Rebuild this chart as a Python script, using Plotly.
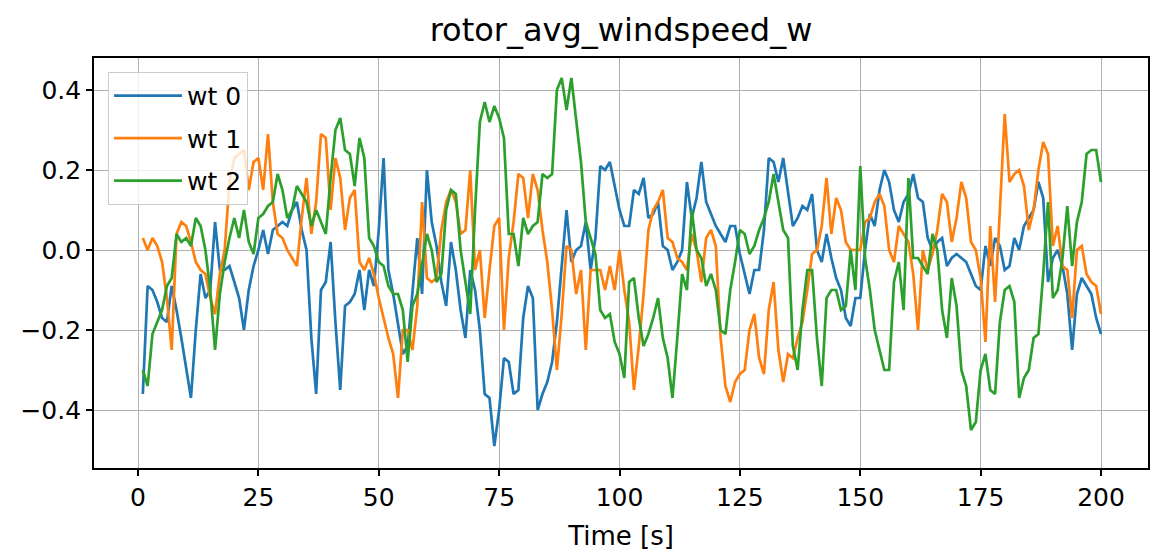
import plotly.graph_objects as go

time_s = list(range(1, 201))

wt0 = [-0.36, -0.09, -0.10, -0.13, -0.17, -0.18, -0.09, -0.15, -0.22, -0.30,
       -0.37, -0.20, -0.06, -0.12, -0.10, 0.07, -0.05, -0.05, -0.04, -0.08,
       -0.12, -0.20, -0.10, -0.04, 0.00, 0.05, -0.01, 0.05, 0.06, 0.07,
       0.06, 0.10, 0.12, 0.05, 0.00, -0.22, -0.36, -0.10, -0.08, 0.02,
       -0.18, -0.35, -0.14, -0.13, -0.11, -0.05, -0.15, -0.05, -0.09, 0.05,
       0.23, -0.05, -0.11, -0.18, -0.26, -0.24, -0.10, 0.03, -0.11, 0.20,
       0.07, 0.01, -0.08, -0.14, 0.02, -0.05, -0.15, -0.22, -0.05, -0.10,
       -0.20, -0.36, -0.37, -0.49, -0.40, -0.27, -0.28, -0.36, -0.35, -0.17,
       -0.09, -0.12, -0.40, -0.36, -0.33, -0.28, -0.18, -0.05, 0.10, -0.03,
       0.00, 0.01, 0.07, -0.05, 0.03, 0.21, 0.20, 0.22, 0.16, 0.10,
       0.06, 0.06, 0.15, 0.14, 0.18, 0.08, 0.09, 0.12, 0.01, 0.00,
       -0.05, -0.03, 0.00, 0.17, 0.08, 0.13, 0.22, 0.12, 0.09, 0.06,
       0.04, 0.02, 0.06, 0.06, -0.01, -0.06, -0.11, -0.05, -0.05, 0.05,
       0.23, 0.22, 0.17, 0.23, 0.15, 0.06, 0.08, 0.11, 0.10, 0.14,
       0.00, -0.03, 0.04, -0.02, -0.07, -0.10, -0.17, -0.19, -0.12, -0.12,
       0.00, 0.09, 0.06, 0.15, 0.20, 0.17, 0.10, 0.07, 0.12, 0.14,
       0.19, 0.13, 0.12, 0.03, 0.00, 0.02, 0.03, -0.04, -0.02, -0.01,
       -0.02, -0.03, -0.06, -0.09, -0.10, 0.01, -0.04, 0.03, 0.01, -0.05,
       -0.04, 0.03, 0.00, 0.06, 0.08, 0.10, 0.17, 0.13, -0.08, -0.02,
       0.00, -0.04, -0.11, -0.25, -0.11, -0.07, -0.09, -0.11, -0.17, -0.21]

wt1 = [0.03, 0.00, 0.03, 0.01, -0.03, -0.12, -0.25, 0.04, 0.07, 0.06,
       0.02, -0.03, -0.05, -0.06, -0.12, -0.16, -0.06, 0.00, 0.17, 0.23,
       0.24, 0.25, 0.15, 0.22, 0.23, 0.15, 0.29, 0.12, 0.04, 0.03,
       0.00, -0.02, -0.04, 0.08, 0.18, 0.04, 0.12, 0.29, 0.28, 0.10,
       0.23, 0.18, 0.05, 0.13, 0.15, -0.03, -0.05, -0.02, -0.06, -0.12,
       -0.17, -0.22, -0.26, -0.37, -0.20, -0.20, -0.25, -0.14, 0.12, -0.07,
       -0.08, -0.07, 0.05, 0.12, 0.15, 0.12, 0.04, 0.05, 0.20, -0.05,
       0.00, -0.17, -0.05, 0.06, 0.08, -0.20, -0.02, 0.07, 0.19, 0.18,
       0.08, 0.19, 0.15, 0.05, -0.03, -0.15, -0.30, -0.16, 0.01, 0.00,
       -0.11, -0.05, -0.25, -0.05, -0.05, -0.05, -0.10, -0.04, -0.10, 0.00,
       -0.10, -0.18, -0.35, -0.24, -0.11, 0.05, 0.10, 0.12, 0.15, 0.03,
       0.02, -0.02, -0.03, -0.05, 0.04, 0.00, -0.08, 0.03, 0.05, 0.01,
       -0.22, -0.34, -0.38, -0.33, -0.31, -0.30, -0.20, -0.16, -0.27, -0.31,
       -0.15, -0.08, -0.25, -0.33, -0.26, -0.27, -0.22, -0.18, -0.10, -0.01,
       0.00, 0.06, 0.18, 0.04, 0.13, 0.10, 0.02, 0.00, 0.00, 0.00,
       0.07, 0.08, 0.12, 0.14, 0.11, 0.00, -0.03, 0.06, 0.04, 0.02,
       -0.06, -0.20, 0.00, -0.05, -0.01, 0.05, 0.14, 0.12, 0.02, 0.08,
       0.17, 0.13, 0.02, 0.00, -0.07, -0.23, 0.06, -0.13, 0.10, 0.34,
       0.17, 0.19, 0.20, 0.16, 0.05, 0.10, 0.20, 0.27, 0.24, 0.01,
       0.06, -0.04, -0.05, -0.17, 0.00, 0.01, -0.06, -0.08, -0.09, -0.16]

wt2 = [-0.30, -0.34, -0.21, -0.18, -0.15, -0.09, -0.07, 0.04, 0.02, 0.03,
       0.01, 0.08, 0.06, 0.00, -0.10, -0.25, -0.11, -0.03, 0.03, 0.08,
       0.03, 0.10, 0.02, -0.01, 0.08, 0.09, 0.11, 0.12, 0.19, 0.15,
       0.08, 0.10, 0.16, 0.14, 0.12, 0.06, 0.10, 0.07, 0.04, 0.18,
       0.30, 0.33, 0.25, 0.24, 0.16, 0.28, 0.23, 0.03, 0.01, -0.03,
       -0.04, -0.09, -0.11, -0.11, -0.15, -0.28, -0.14, -0.11, -0.04, 0.04,
       0.00, -0.08, -0.06, 0.10, 0.15, 0.14, 0.00, -0.08, -0.16, 0.10,
       0.32, 0.37, 0.32, 0.36, 0.33, 0.28, 0.04, 0.04, -0.04, 0.08,
       0.04, 0.06, 0.07, 0.19, 0.18, 0.19, 0.40, 0.43, 0.35, 0.43,
       0.33, 0.22, 0.07, 0.03, -0.01, -0.15, -0.17, -0.16, -0.23, -0.26,
       -0.32, -0.08, -0.07, -0.17, -0.24, -0.21, -0.17, -0.12, -0.22, -0.27,
       -0.37, -0.22, -0.06, -0.10, 0.10, 0.00, -0.02, -0.09, -0.06, -0.10,
       -0.20, -0.21, -0.10, -0.03, 0.05, 0.04, -0.01, 0.01, 0.05, 0.08,
       0.12, 0.19, 0.12, 0.05, 0.03, -0.24, -0.30, -0.15, -0.05, -0.05,
       -0.22, -0.34, -0.12, -0.10, -0.10, -0.15, -0.14, 0.00, -0.10, 0.21,
       -0.02, -0.10, -0.20, -0.25, -0.30, -0.30, -0.08, -0.03, -0.15, 0.18,
       -0.02, -0.02, -0.04, -0.06, 0.04, 0.00, -0.15, -0.22, -0.07, -0.14,
       -0.30, -0.34, -0.45, -0.43, -0.30, -0.26, -0.35, -0.36, -0.18, -0.10,
       -0.09, -0.13, -0.37, -0.32, -0.30, -0.22, -0.21, -0.06, 0.12, -0.12,
       -0.10, -0.02, 0.11, -0.04, 0.07, 0.12, 0.24, 0.25, 0.25, 0.17]

series_names = ["wt 0", "wt 1", "wt 2"]
series_values = [wt0, wt1, wt2]
colors = ["#1f77b4", "#ff7f0e", "#2ca02c"]
x_ticks = [0, 25, 50, 75, 100, 125, 150, 175, 200]
y_ticks = [-0.4, -0.2, 0.0, 0.2, 0.4]

FONT = "DejaVu Sans"

fig = go.Figure()
for i, (name, vals, col) in enumerate(zip(series_names, series_values, colors)):
    fig.add_trace(go.Scatter(
        x=time_s, y=vals, mode="lines", name=name,
        line=dict(color=col, width=2.7),
        legendgroup=str(i),
    ))

axis_common = dict(
    showgrid=True, gridcolor="#b0b0b0", gridwidth=1.3,
    showline=True, linecolor="black", linewidth=1.7, mirror=True,
    ticks="outside", ticklen=6, tickwidth=1.5, tickcolor="black",
    zeroline=False,
    tickfont=dict(family=FONT, size=25, color="black"),
)

fig.update_layout(
    width=1152, height=554,
    margin=dict(l=94, r=4, t=58, b=86),
    paper_bgcolor="white", plot_bgcolor="white",
    font=dict(family=FONT, color="black"),
    title=dict(
        text="rotor_avg_windspeed_w",
        font=dict(family=FONT, size=32, color="black"),
        x=0.5, xref="paper", xanchor="center",
        y=1 - 30 / 554, yref="container", yanchor="middle",
    ),
    xaxis=dict(
        range=[-9.14, 209.76], tickvals=x_ticks,
        title=dict(text="Time [s]", font=dict(family=FONT, size=26, color="black"), standoff=16),
        automargin=False,
        **axis_common,
    ),
    yaxis=dict(
        range=[-0.545, 0.48], tickvals=y_ticks, tickformat=".1f",
        automargin=False,
        **axis_common,
    ),
    legend=dict(
        x=0.0133, y=0.966, xanchor="left", yanchor="top",
        bgcolor="rgba(255,255,255,0.8)", bordercolor="#cccccc", borderwidth=1,
        font=dict(family=FONT, size=25, color="black"),
        tracegroupgap=7, itemwidth=68,
    ),
    showlegend=True,
)

fig.write_html(
    "out.html",
    config={"displayModeBar": False},
    post_script="document.body.style.margin='0';document.body.style.overflow='hidden';",
)
